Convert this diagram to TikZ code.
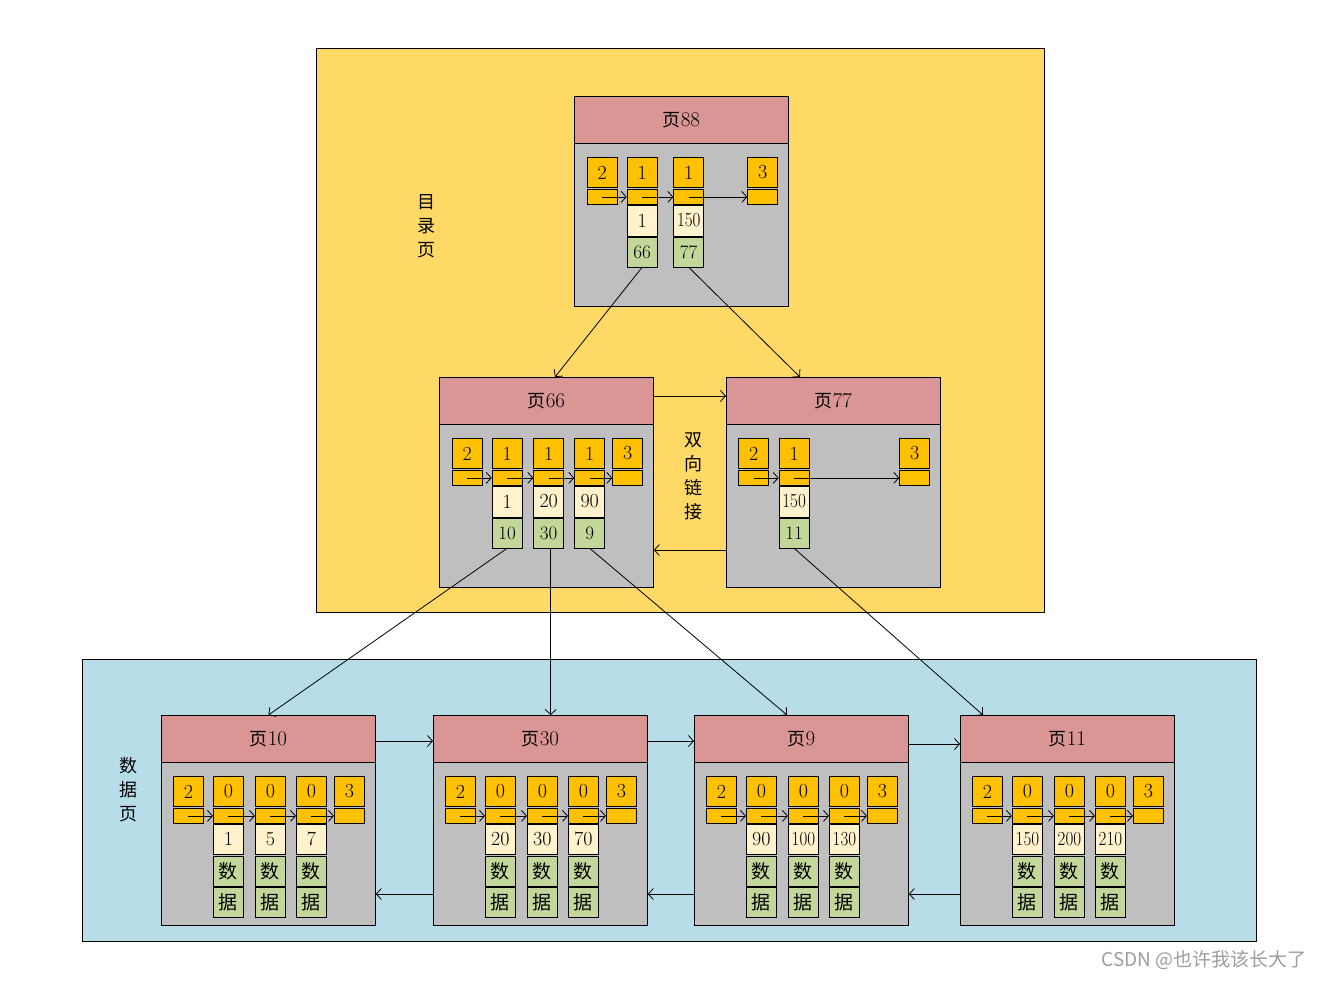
\documentclass[tikz,border=0pt]{standalone}
\usepackage{fontspec}
\usepackage{graphicx}
\newfontfamily\cjk{Noto Sans CJK SC}
\usetikzlibrary{arrows.meta,calc}
\definecolor{gold}{RGB}{255,217,102}
\definecolor{lblue}{RGB}{183,222,232}
\definecolor{hdr}{RGB}{218,150,148}
\definecolor{bodygray}{RGB}{191,191,191}
\definecolor{org}{RGB}{255,192,0}
\definecolor{cream}{RGB}{255,242,204}
\definecolor{grn}{RGB}{196,215,155}
\newcommand\nar[1]{\scalebox{0.85}[1]{#1}}
\tikzset{
 box/.style={draw=black, line width=0.8pt, rectangle, anchor=north west, inner sep=0pt, minimum width=30pt, font=\fontsize{20}{20}\selectfont},
 obox/.style={box, fill=org},
 vbox/.style={box, fill=cream, font=\fontsize{20}{20}\selectfont},
 gbox/.style={box, fill=grn, font=\fontsize{19}{19}\selectfont},
 dbox/.style={box, fill=grn, font=\cjk\fontsize{19}{19}\selectfont},
 pagebody/.style={draw, line width=0.8pt, fill=bodygray, anchor=north west, minimum width=214pt, minimum height=210pt, inner sep=0pt},
 pagehead/.style={draw, line width=0.8pt, fill=hdr, anchor=north west, minimum width=214pt, minimum height=47pt, inner sep=0pt, font=\fontsize{21}{21}\selectfont},
 region/.style={draw, line width=0.8pt, anchor=north west, inner sep=0pt},
 vlabel/.style={align=center, font=\cjk\fontsize{18}{24}\selectfont, inner sep=0pt},
 arr/.style={line width=0.8pt, -{Straight Barb[length=5pt,width=11pt]}},
}
\newcommand\pg[4]{%
 \node[pagebody] (#1) at (#2,#3) {};
 \node[pagehead] (#1h) at (#2,#3) {{\cjk\fontsize{18}{18}\selectfont 页}#4};}
\newcommand\tp[4]{%
 \node[obox, minimum height=30pt] (#1t) at (#2,#3+61) {#4};
 \node[obox, minimum height=15pt] (#1s) at (#2,#3+93) {};}
\newcommand\vl[5]{%
 \node[vbox, minimum height=31pt] (#1v) at (#2,#3+108.5) {#4};
 \node[gbox, minimum height=30pt] (#1g) at (#2,#3+140.5) {#5};}
\newcommand\dt[4]{%
 \node[vbox, minimum height=30pt] (#1v) at (#2,#3+108.5) {#4};
 \node[dbox, minimum height=30pt] (#1g) at (#2,#3+140.5) {数};
 \node[dbox, minimum height=30pt] (#1k) at (#2,#3+172) {据};}
\newcommand\datapage[7]{%
 \pg{#1}{#2}{#3}{#4}
 \tp{#1a}{#2+12}{#3}{2}
 \tp{#1b}{#2+52}{#3}{0}
 \tp{#1c}{#2+94}{#3}{0}
 \tp{#1d}{#2+135}{#3}{0}
 \tp{#1e}{#2+173}{#3}{3}
 \dt{#1b}{#2+52}{#3}{#5}
 \dt{#1c}{#2+94}{#3}{#6}
 \dt{#1d}{#2+135}{#3}{#7}
 \draw[arr] (#1as.center) -- (#1bs.west);
 \draw[arr] (#1bs.center) -- (#1cs.west);
 \draw[arr] (#1cs.center) -- (#1ds.west);
 \draw[arr] (#1ds.center) -- (#1es.west);}
\begin{document}
\begin{tikzpicture}[x=1pt,y=-1pt]
\useasboundingbox (0,0) rectangle (1320,980);
\fill[white] (0,0) rectangle (1320,980);
% regions
\node[region, fill=gold, minimum width=728pt, minimum height=564pt] (dir) at (316,48) {};
\node[region, fill=lblue, minimum width=1174pt, minimum height=282pt] (dat) at (82,659) {};
\node[vlabel] (mulu) at (426,226) {目\\录\\页};
\node[vlabel] (shuang) at (693,476) {双\\向\\链\\接};
\node[vlabel] (shuju) at (128,790) {数\\据\\页};
% page 88
\pg{p88}{574}{96}{88}
\tp{p88a}{586.7}{96}{2}
\tp{p88b}{626.7}{96}{1}
\tp{p88c}{673.3}{96}{1}
\tp{p88e}{747.3}{96}{3}
\vl{p88b}{626.7}{96}{1}{66}
\vl{p88c}{673.3}{96}{\nar{150}}{77}
\draw[arr] (p88as.center) -- (p88bs.west);
\draw[arr] (p88bs.center) -- (p88cs.west);
\draw[arr] (p88cs.center) -- (p88es.west);
% page 66
\pg{p66}{439}{377}{66}
\tp{p66a}{451.7}{377}{2}
\tp{p66b}{491.7}{377}{1}
\tp{p66c}{533.3}{377}{1}
\tp{p66d}{574.3}{377}{1}
\tp{p66e}{612.3}{377}{3}
\vl{p66b}{491.7}{377}{1}{10}
\vl{p66c}{533.3}{377}{20}{30}
\vl{p66d}{574.3}{377}{90}{9}
\draw[arr] (p66as.center) -- (p66bs.west);
\draw[arr] (p66bs.center) -- (p66cs.west);
\draw[arr] (p66cs.center) -- (p66ds.west);
\draw[arr] (p66ds.center) -- (p66es.west);
% page 77
\pg{p77}{726}{377}{77}
\tp{p77a}{738.3}{377}{2}
\tp{p77b}{778.7}{377}{1}
\tp{p77e}{899.3}{377}{3}
\vl{p77b}{778.7}{377}{\nar{150}}{11}
\draw[arr] (p77as.center) -- (p77bs.west);
\draw[arr] (p77bs.center) -- (p77es.west);
% data pages
\datapage{p10}{161}{715}{10}{1}{5}{7}
\datapage{p30}{433}{715}{30}{20}{30}{70}
\datapage{p9}{694}{715}{9}{90}{\nar{100}}{\nar{130}}
\datapage{p11}{960}{715}{11}{\nar{150}}{\nar{200}}{\nar{210}}
% connectors between pages
\draw[arr] (p88bg.south) -- ([xshift=116pt]p66.north west);
\draw[arr] (p88cg.south) -- ([xshift=74pt]p77.north west);
\draw[arr] ([yshift=-19pt]p66.north east) -- ([yshift=-19pt]p77.north west);
\draw[arr] ([yshift=-173pt]p77.north west) -- ([yshift=-173pt]p66.north east);
\draw[arr] (p66bg.south) -- (p10.north);
\draw[arr] ([xshift=2pt]p66cg.south) -- ([xshift=2pt]p66cg.south |- p30.north);
\draw[arr] (p66dg.south) -- ([xshift=93pt]p9.north west);
\draw[arr] (p77bg.south) -- ([xshift=23pt]p11.north west);
\draw[arr] ([yshift=-26pt]p10.north east) -- ([yshift=-26pt]p30.north west);
\draw[arr] ([yshift=-26pt]p30.north east) -- ([yshift=-26pt]p9.north west);
\draw[arr] ([yshift=-29pt]p9.north east) -- ([yshift=-29pt]p11.north west);
\draw[arr] ([yshift=-179pt]p30.north west) -- ([yshift=-179pt]p10.north east);
\draw[arr] ([yshift=-179pt]p9.north west) -- ([yshift=-179pt]p30.north east);
\draw[arr] ([yshift=-179pt]p11.north west) -- ([yshift=-179pt]p9.north east);
% watermark
\node[font=\cjk\fontsize{19}{19}\selectfont, text=black!38, anchor=east, inner sep=0pt] (wm) at (1307,960) {CSDN @也许我该长大了};
\end{tikzpicture}
\end{document}
